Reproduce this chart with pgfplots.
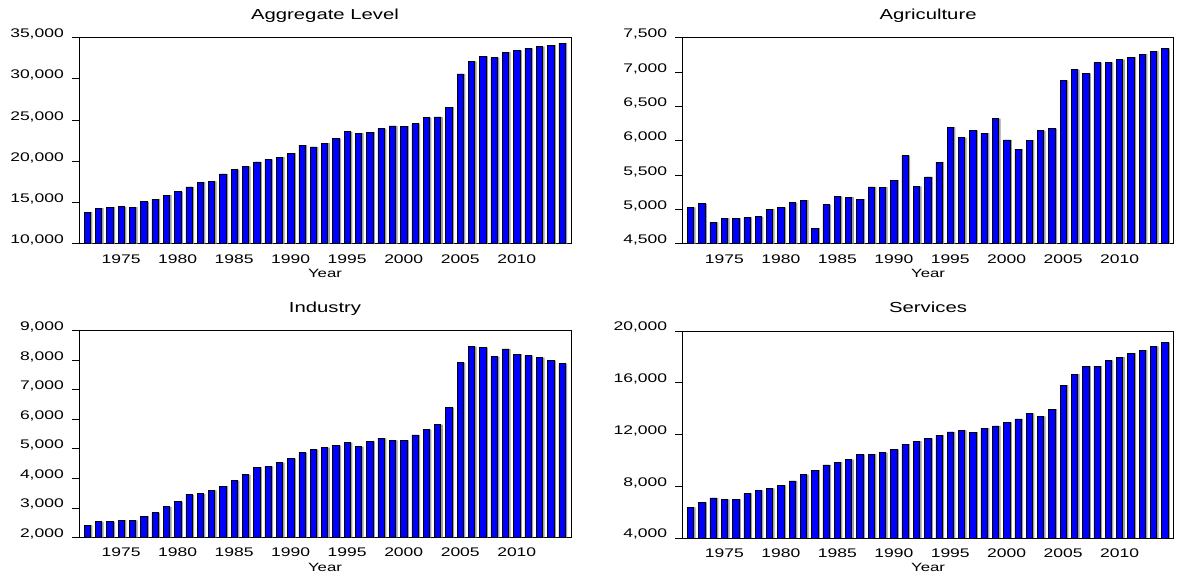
\documentclass[border=0pt]{standalone}
\usepackage{fontspec}
\setmainfont{Liberation Sans}[FakeStretch=1.4]
\usepackage{pgfplots}
\pgfplotsset{compat=1.18}
\usepackage{pgfplotstable}

\pgfplotstableread{
year agg agr ind ser
1972 13840 5028 2418 6374
1973 14320 5081 2531 6761
1974 14440 4810 2531 7097
1975 14480 4873 2587 6994
1976 14440 4868 2576 6994
1977 15090 4883 2723 7458
1978 15410 4892 2835 7690
1979 15900 5004 3039 7845
1980 16300 5028 3208 8077
1981 16900 5096 3445 8413
1982 17470 5135 3479 8903
1983 17550 4728 3592 9239
1984 18480 5067 3739 9652
1985 18970 5188 3919 9858
1986 19370 5178 4123 10065
1987 19935 5149 4371 10452
1988 20220 5328 4405 10477
1989 20500 5324 4529 10606
1990 20990 5425 4665 10839
1991 21950 5784 4868 11252
1992 21750 5333 4970 11484
1993 22200 5474 5037 11690
1994 22760 5687 5105 11948
1995 23610 6196 5206 12206
1996 23410 6046 5071 12310
1997 23530 6147 5240 12181
1998 23970 6109 5353 12490
1999 24300 6322 5285 12671
2000 24260 6012 5285 12929
2001 24580 5876 5466 13213
2002 25300 6007 5647 13626
2003 25390 6147 5816 13394
2004 26560 6176 6392 13961
2005 30600 6879 7916 15819
2006 32130 7034 8458 16671
2007 32740 6976 8424 17290
2008 32580 7136 8119 17290
2009 33260 7141 8379 17729
2010 33420 7179 8199 17987
2011 33700 7218 8153 18297
2012 33910 7262 8086 18529
2013 34110 7300 7984 18813
2014 34350 7339 7882 19097
}\data

\pgfplotsset{
  panel/.style={
    scale only axis, width=492pt, height=206pt,
    anchor=north west,
    xmin=1971.27, xmax=2014.8,
    xtick={1975,1980,1985,1990,1995,2000,2005,2010},
    xticklabels={1975,1980,1985,1990,1995,2000,2005,2010},
    minor xtick={1972,...,2014},
    xtick pos=bottom, ytick pos=left, tick align=outside,
    major tick length=7pt, minor tick length=4pt,
    xtick style={draw=none},
    minor tick style={black, line width=0.8pt},
    ytick style={black, line width=0.8pt},
    axis line style={black, line width=0.9pt},
    tick label style={font=\fontsize{12.5}{14}\selectfont, inner sep=0pt},
    yticklabel style={anchor=base east, xshift=-8pt, /pgf/number format/fixed,
      /pgf/number format/1000 sep={,}, /pgf/number format/assume math mode=true},
    xticklabel style={anchor=base, yshift=-12.5pt},
    scaled y ticks=false,
    title style={font=\fontsize{14.5}{16}\selectfont, at={(axis description cs:0.5,1)}, anchor=base, yshift=12pt, inner sep=0pt},
    xlabel={Year},
    xlabel style={font=\fontsize{12}{14}\selectfont, at={(axis description cs:0.5,0)}, anchor=base, yshift=-34pt, inner sep=0pt},
    clip=true,
  },
  shadow/.style={ybar, bar width=6.3pt, bar shift=2pt, fill=black!38, draw=none},
  bars/.style={ybar, bar width=6.3pt, bar shift=0pt, fill=blue, draw=black, line width=0.6pt},
}

\begin{document}
\begin{tikzpicture}[x=1pt,y=1pt]
\useasboundingbox (0,0) rectangle (1182,575);

\begin{axis}[panel, at={(79pt,537.3pt)}, title={Aggregate Level},
  ymin=10000, ymax=35000, ytick={10000,15000,...,35000}]
  \addplot[shadow] table[x=year,y=agg]{\data};
  \addplot[bars] table[x=year,y=agg]{\data};
\end{axis}

\begin{axis}[panel, at={(682.3pt,537.3pt)}, width=491.5pt, title={Agriculture},
  ymin=4500, ymax=7500, ytick={4500,5000,...,7500}]
  \addplot[shadow] table[x=year,y=agr]{\data};
  \addplot[bars] table[x=year,y=agr]{\data};
\end{axis}

\begin{axis}[panel, at={(79pt,244.5pt)}, height=207pt, title={Industry},
  ymin=2000, ymax=9000, ytick={2000,3000,...,9000}]
  \addplot[shadow] table[x=year,y=ind]{\data};
  \addplot[bars] table[x=year,y=ind]{\data};
\end{axis}

\begin{axis}[panel, at={(682.3pt,244pt)}, width=491.5pt, height=207pt, title={Services},
  ymin=4000, ymax=20000, ytick={4000,8000,...,20000}]
  \addplot[shadow] table[x=year,y=ser]{\data};
  \addplot[bars] table[x=year,y=ser]{\data};
\end{axis}
\end{tikzpicture}
\end{document}
